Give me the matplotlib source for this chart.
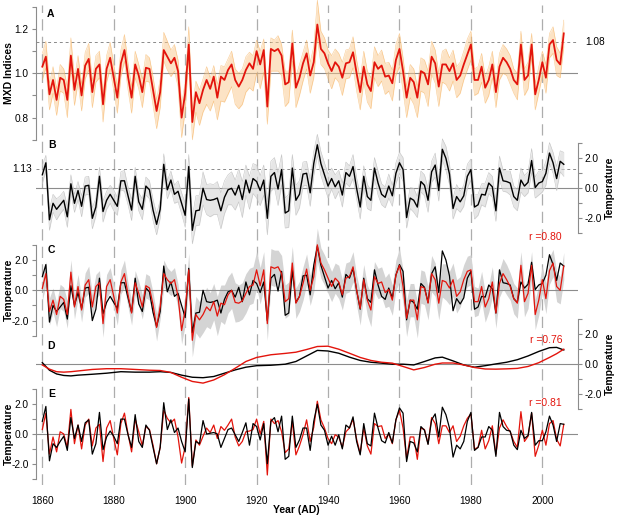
import numpy as np
import matplotlib
matplotlib.use('Agg')
import matplotlib.pyplot as plt

plt.rcParams['font.family'] = ['Liberation Sans', 'DejaVu Sans']

# ---- data (1860-2006) ----
years = np.arange(1860, 2007)

# A: mean MXD index (red) and spread of the individual chronologies
mxd_mean = [1.03, 1.075, 0.905, 0.97, 0.88, 0.98, 0.97, 0.88, 1.08, 0.925,
            1.02, 0.90, 1.035, 1.065, 0.915, 1.02, 1.04, 0.86, 1.02, 1.07,
            0.98, 0.89, 1.045, 1.105, 0.985, 0.89, 1.04, 0.99, 0.915, 1.025,
            1.02, 0.925, 0.83, 0.915, 1.105, 1.075, 1.045, 1.07, 1.01, 0.80,
            0.91, 1.13, 0.78, 0.915, 0.865, 0.925, 0.97, 0.93, 0.985, 0.89,
            0.985, 0.97, 1.015, 1.04, 0.97, 0.94, 0.97, 1.015, 1.045, 1.02,
            1.10, 1.04, 1.105, 0.85, 1.11, 1.10, 1.11, 1.08, 0.95, 0.96,
            1.135, 0.935, 0.98, 1.045, 1.09, 0.99, 1.05, 1.22, 1.11, 1.09,
            1.045, 1.01, 1.05, 1.03, 0.98, 1.045, 1.05, 1.095, 1.0, 0.915,
            1.03, 0.95, 0.92, 1.05, 1.02, 1.035, 0.985, 0.99, 0.955, 1.06,
            1.11, 1.01, 0.89, 0.98, 0.96, 0.89, 1.01, 1.0, 0.95, 1.075,
            1.045, 0.94, 1.04, 1.04, 1.01, 1.045, 0.97, 0.99, 1.04, 1.085,
            1.13, 0.97, 0.97, 1.03, 0.935, 0.97, 1.04, 0.915, 1.03, 1.07,
            1.05, 1.02, 0.97, 0.95, 1.13, 0.97, 0.99, 1.13, 0.905, 0.97,
            1.05, 0.98, 1.13, 1.15, 1.06, 1.04, 1.18]
mxd_up = [.06, .07, .05, .06, .05, .06, .05, .06, .08, .05,
          .06, .05, .06, .07, .05, .06, .06, .05, .06, .07,
          .06, .05, .06, .07, .06, .05, .06, .05, .06, .06,
          .05, .06, .05, .06, .08, .07, .06, .06, .05, .06,
          .05, .08, .06, .05, .06, .05, .06, .05, .05, .06,
          .05, .06, .05, .06, .05, .06, .05, .06, .05, .06,
          .05, .06, .05, .06, .05, .05, .06, .05, .06, .05,
          .06, .05, .06, .05, .06, .06, .07, .11, .08, .07,
          .06, .07, .06, .06, .07, .06, .06, .07, .06, .06,
          .07, .06, .06, .07, .06, .07, .06, .06, .06, .07,
          .07, .06, .05, .06, .06, .05, .06, .06, .06, .07,
          .06, .06, .06, .07, .06, .06, .06, .06, .06, .07,
          .06, .05, .06, .06, .05, .06, .06, .05, .06, .06,
          .06, .06, .05, .05, .06, .05, .06, .05, .05, .06,
          .05, .06, .05, .06, .06, .05, .06]
mxd_dn = [.06, .05, .07, .06, .07, .06, .06, .08, .05, .07,
          .06, .07, .06, .05, .07, .06, .06, .08, .06, .05,
          .06, .07, .06, .05, .06, .07, .06, .06, .07, .06,
          .06, .07, .08, .07, .05, .06, .06, .06, .07, .09,
          .08, .06, .08, .09, .10, .10, .11, .10, .11, .10,
          .11, .10, .11, .10, .11, .10, .11, .10, .11, .10,
          .10, .11, .10, .08, .10, .09, .10, .09, .10, .09,
          .08, .09, .08, .08, .07, .08, .07, .06, .07, .07,
          .07, .08, .07, .07, .08, .07, .07, .07, .08, .08,
          .07, .08, .08, .07, .08, .07, .08, .07, .08, .07,
          .08, .09, .09, .09, .10, .09, .09, .09, .10, .08,
          .09, .09, .08, .09, .09, .08, .08, .08, .07, .07,
          .07, .07, .06, .07, .07, .07, .06, .07, .06, .07,
          .06, .07, .06, .07, .06, .07, .06, .06, .07, .06,
          .06, .07, .06, .06, .07, .06, .06]

# B/C: observed temperature (black) and station spread (grey)
temp_obs = [0.9, 1.7, -2.1, -1.0, -1.4, -1.1, -0.8, -1.9, 0.3, -1.0,
            -0.15, -1.2, 0.15, 0.2, -2.0, -1.25, 0.8, -1.55, -0.8, -0.4,
            -0.8, -1.2, 0.5, 0.5, -0.5, -1.45, 0.8, -0.9, -1.4, 0.15,
            -0.1, -1.45, -2.4, -1.4, 1.6, -0.1, 0.55, -0.4, -0.2, -1.0,
            -1.8, 1.45, -2.8, -1.5, -1.45, 0.0, -0.75, -0.8, -0.75, -0.65,
            -1.5, -0.6, -0.1, 0.0, -0.45, 0.2, -0.75, 0.55, -0.3, 0.65,
            0.45, -0.15, 0.55, -2.0, 0.8, 1.05, -0.05, 1.25, -1.65, -1.5,
            1.35, -0.8, -0.4, 0.95, 1.0, -0.3, 1.65, 2.9, 1.65, 0.9,
            0.15, 0.65, 0.1, 0.5, -0.45, 1.05, 0.8, 1.45, 0.0, -1.25,
            0.8, -0.55, -0.8, 1.35, 0.35, -0.4, -0.6, 0.15, -0.5, 1.0,
            1.7, 1.25, -1.95, -0.65, -0.8, -1.25, 0.45, 0.2, -0.8, 1.1,
            1.55, -0.15, 2.6, 2.0, 0.95, -1.35, -0.55, -0.9, -0.5, 0.8,
            1.25, -1.25, -1.1, -0.4, -0.45, 0.35, 0.1, -1.5, 1.35, 0.5,
            0.45, 0.35, -0.55, -0.8, 0.55, 0.15, 0.4, 1.85, 0.05, 0.35,
            0.45, 1.0, 2.35, 1.7, 0.65, 1.8, 1.6]
obs_spread = [.6, .5, .7, .6, .7, .6, .6, .7, .6, .6,
              .6, .7, .6, .6, .7, .6, .6, .7, .6, .6,
              .7, .6, .6, .7, .6, .7, .6, .6, .7, .6,
              .6, .7, .7, .6, .7, .6, .6, .6, .7, .7,
              .8, .8, .9, 1.0, 1.0, 1.1, 1.0, 1.1, 1.0, 1.1,
              1.2, 1.1, 1.0, 1.1, 1.0, 1.1, 1.2, 1.0, 1.1, 1.0,
              1.1, 1.0, 1.0, 1.1, 1.0, 1.0, 1.1, 1.0, 1.0, 1.1,
              .9, 1.0, .9, .8, .8, .9, .8, .7, .8, .8,
              .8, .7, .8, .7, .8, .7, .7, .8, .7, .8,
              .7, .8, .7, .7, .8, .7, .7, .8, .7, .7,
              .7, .8, .7, .7, .8, .7, .7, .7, .8, .7,
              .8, .7, .7, .8, .7, .7, .8, .7, .7, .8,
              .7, .8, .7, .7, .8, .7, .7, .7, .8, .7,
              .7, .8, .7, .7, .8, .7, .7, .8, .7, .8,
              .7, .8, .7, .7, .8, .7, .8]

# C: reconstruction in temperature units (red) and its uncertainty band
temp_rec = [0.13, 1.1, -1.4, -0.65, -1.6, -0.4, -0.6, -1.6, 1.2, -1.1,
            0.25, -1.3, 0.35, 0.7, -1.1, 0.25, 0.5, -2.2, 0.25, 0.7,
            -0.4, -1.5, 0.55, 1.1, -0.3, -1.5, 0.5, -0.2, -1.1, 0.3,
            0.15, -0.95, -2.45, -1.1, 1.1, 0.7, 0.45, 0.7, -0.4, -2.65,
            -1.3, 1.35, -3.3, -1.6, -1.95, -1.6, -1.1, -1.35, -0.75, -1.7,
            -0.85, -0.95, -0.3, 0.0, -0.8, -0.85, -0.7, -0.2, 0.25, 0.35,
            1.35, 0.3, 1.35, -2.2, 1.55, 1.45, 1.55, 1.1, -0.75, -0.55,
            1.8, -0.85, -0.4, 0.45, 1.4, 0.0, 0.9, 3.0, 1.8, 1.35,
            0.8, 0.25, 0.8, 0.55, -0.3, 0.8, 0.9, 1.55, 0.0, -1.2,
            0.7, -0.65, -1.3, 0.9, 0.45, 0.55, -0.15, 0.05, -0.65, 1.0,
            1.65, 0.25, -1.85, -0.65, -0.65, -1.95, 0.25, 0.15, -0.85, 1.1,
            0.7, -0.85, 0.65, 0.55, 0.15, 0.7, -0.4, -0.1, 0.7, 1.25,
            1.35, -0.75, -0.75, 0.25, -1.1, -0.55, 0.55, -1.5, 0.45, 1.1,
            0.7, 0.25, -0.55, -0.85, 1.65, -0.75, -0.2, 1.65, -1.6, -0.65,
            0.7, -0.55, 1.3, 1.8, 0.25, 0.0, 1.6]
rec_spread = [.8, .8, .9, .8, .8, .8, .8, .9, .8, .8,
              .8, .8, .8, .9, .8, .8, .8, .9, .8, .8,
              .8, .8, .8, .9, .8, .8, .8, .8, .8, .8,
              .8, .8, .9, .8, .9, .8, .8, .8, .8, .9,
              1.0, 1.1, 1.1, 1.2, 1.2, 1.2, 1.3, 1.2, 1.2, 1.3,
              1.2, 1.3, 1.2, 1.2, 1.3, 1.2, 1.2, 1.3, 1.2, 1.2,
              1.2, 1.2, 1.2, 1.1, 1.2, 1.2, 1.1, 1.2, 1.1, 1.1,
              1.1, 1.0, 1.0, 1.1, 1.0, 1.0, 1.0, 1.1, 1.0, 1.0,
              1.0, 1.0, 1.0, 1.1, 1.0, 1.0, 1.0, 1.0, 1.0, 1.1,
              1.0, 1.0, 1.1, 1.0, 1.0, 1.0, 1.0, 1.1, 1.0, 1.0,
              1.1, 1.1, 1.2, 1.1, 1.1, 1.2, 1.1, 1.1, 1.1, 1.2,
              1.1, 1.1, 1.1, 1.2, 1.1, 1.1, 1.1, 1.0, 1.0, 1.0,
              1.0, 1.0, 0.9, 1.0, 1.0, 0.9, 1.0, 1.0, 0.9, 1.0,
              1.0, 0.9, 1.0, 1.0, 0.9, 1.0, 1.0, 0.9, 1.0, 1.0,
              0.9, 1.0, 0.9, 0.9, 1.0, 0.9, 0.9]

# D: low-pass curves
low_years = [1860, 1862, 1864, 1866, 1868, 1870, 1874, 1878, 1882, 1886,
             1890, 1893, 1896, 1899, 1902, 1905, 1908, 1911, 1914, 1917,
             1920, 1924, 1928, 1931, 1934, 1937, 1940, 1943, 1946, 1949,
             1952, 1955, 1958, 1961, 1964, 1967, 1970, 1972, 1975, 1978,
             1981, 1984, 1987, 1990, 1993, 1996, 1999, 2002, 2004, 2006]
low_obs = [0.1, -0.4, -0.65, -0.75, -0.78, -0.73, -0.67, -0.6, -0.5, -0.53,
           -0.53, -0.5, -0.55, -0.73, -0.87, -0.9, -0.82, -0.6, -0.38, -0.2,
           -0.1, -0.07, 0.0, 0.18, 0.55, 0.92, 0.88, 0.73, 0.47, 0.25,
           0.13, 0.07, 0.0, 0.0, -0.05, 0.18, 0.42, 0.47, 0.22, -0.05,
           -0.2, -0.1, 0.02, 0.13, 0.3, 0.55, 0.85, 1.1, 1.12, 0.95]
low_rec = [-0.05, -0.33, -0.5, -0.53, -0.5, -0.45, -0.35, -0.3, -0.3, -0.35,
           -0.4, -0.42, -0.55, -0.87, -1.15, -1.26, -1.05, -0.7, -0.27, 0.18,
           0.45, 0.63, 0.72, 0.8, 0.98, 1.18, 1.2, 1.0, 0.73, 0.45,
           0.25, 0.13, 0.07, -0.15, -0.38, -0.22, 0.0, 0.08, 0.08, -0.05,
           -0.22, -0.32, -0.33, -0.31, -0.28, -0.15, 0.1, 0.45, 0.7, 1.0]

# E: high-pass series
high_obs = [0.85, 1.85, -1.8, -0.65, -0.9, -0.5, -0.15, -1.1, 1.1, -0.3,
            0.6, -0.5, 0.75, 0.95, -1.35, -0.65, 1.45, -1.05, -0.2, 0.2,
            -0.15, -0.65, 1.0, 1.0, -0.05, -0.9, 1.3, -0.5, -0.9, 0.6,
            0.25, -0.9, -2.0, -0.9, 2.1, 0.3, 0.95, 0.1, 0.4, -0.5,
            -1.2, 2.35, -2.25, -0.5, -0.65, 0.9, 0.0, 0.05, 0.1, 0.0,
            -0.9, -0.3, 0.3, 0.4, -0.05, -0.5, 0.1, 0.75, -0.75, 0.7,
            0.5, -0.4, 0.7, -2.0, 0.85, 1.1, 0.15, 1.2, -1.7, -1.5,
            1.2, -0.9, -0.4, 0.4, 0.4, -1.1, 0.85, 2.0, 0.6, 0.25,
            -0.75, -0.15, -0.75, -0.05, -1.0, 0.6, 0.4, 1.15, -0.5, -1.4,
            0.7, -0.65, -0.8, 1.4, 0.4, -0.45, -0.6, 0.1, -0.6, 0.95,
            1.75, 1.4, -1.85, -0.5, -0.6, -1.2, 0.5, 0.25, -0.7, 0.95,
            1.35, -0.2, 1.8, 1.3, 0.4, -1.55, -0.75, -1.0, -0.5, 0.85,
            1.45, -1.1, -0.9, -0.2, -0.2, 0.5, 0.25, -1.5, 1.45, 0.5,
            0.25, 0.2, -0.75, -1.05, 0.25, -0.3, -0.1, 1.45, -0.75, -0.45,
            -0.45, 0.15, 1.2, 0.6, -0.5, 0.7, 0.65]
high_rec = [0.3, 1.4, -1.35, -0.2, -1.2, 0.15, 0.0, -0.9, 1.65, -0.65,
            0.6, -1.0, 0.6, 1.0, -0.8, 0.4, 0.65, -1.85, 0.4, 0.9,
            -0.3, -1.4, 0.7, 1.4, 0.0, -1.2, 1.0, 0.15, -0.8, 0.5,
            0.3, -0.75, -2.0, -0.9, 1.6, 1.05, 0.75, 1.0, -0.2, -1.95,
            -0.85, 2.45, -2.15, -0.4, -0.75, -0.15, 0.4, 0.1, 0.6, -0.3,
            0.5, 0.25, 0.6, 1.0, -0.2, -0.8, -0.5, 0.15, 0.2, 0.3,
            1.0, 0.0, 0.85, -2.75, 1.0, 0.7, 0.9, 0.15, -1.25, -1.0,
            0.85, -1.4, -0.8, -0.05, 0.95, -0.5, 0.45, 2.2, 0.95, 0.4,
            -0.3, -0.65, -0.05, -0.2, -0.9, 0.15, 0.4, 1.0, -0.35, -1.3,
            0.4, -0.8, -1.35, 0.7, 0.5, 0.55, -0.3, 0.0, -0.65, 0.95,
            1.6, 0.4, -1.65, -0.2, -0.2, -1.7, 0.4, 0.3, -0.65, 1.1,
            0.7, -0.65, 0.55, 0.55, 0.1, 0.55, -0.5, -0.15, 0.55, 1.05,
            1.35, -1.0, -0.9, 0.25, -1.0, -0.45, 0.55, -1.35, 0.4, 0.95,
            0.5, 0.15, -0.5, -0.9, 1.5, -0.5, -0.15, 1.4, -1.5, -0.75,
            0.25, -0.75, 0.7, 0.9, -0.35, -0.8, 0.65]

xtick_years = [1860, 1880, 1900, 1920, 1940, 1960, 1980, 2000]
temp_ticks = [-3, -2, -1, 0, 1, 2, 3]
temp_labels = ['', '-2.0', '', '0.0', '', '2.0', '']
mxd_ticks = [0.7, 0.8, 0.9, 1.0, 1.1, 1.2, 1.3]
mxd_labels = ['', '0.8', '', '1.0', '', '1.2', '']

for name, arr in [('mxd_mean', mxd_mean), ('mxd_up', mxd_up), ('mxd_dn', mxd_dn),
                  ('temp_obs', temp_obs), ('obs_spread', obs_spread),
                  ('temp_rec', temp_rec), ('rec_spread', rec_spread),
                  ('high_obs', high_obs), ('high_rec', high_rec)]:
    assert len(arr) == len(years), (name, len(arr))

mxd_mean = np.array(mxd_mean)
temp_obs = np.array(temp_obs)
temp_rec = np.array(temp_rec)

# ---- layout (pixel based) ----
W, H = 617, 518
RED = '#e3140c'
GREY = '#8c8c8c'
X0, X1 = 35.7, 577.7            # spine positions
YR0, YR1 = 1858.15, 2009.9      # years at the spines
PT, PB = 0.0, 485.0             # vertical pixel span of the axes

fig = plt.figure(figsize=(W / 100, H / 100), dpi=100)
rect = [X0 / W, 1 - PB / H, (X1 - X0) / W, (PB - PT) / H]


def fx(x):
    return x / W


def fy(y):
    return 1 - y / H


def make_axes(label, v0=0.0, p0=0.0, scale=1.0):
    ax = fig.add_axes(rect, label=label)
    ax.set_xlim(YR0, YR1)
    ax.set_ylim(v0 - (PB - p0) / scale, v0 + (p0 - PT) / scale)
    ax.patch.set_visible(False)
    for sp in ax.spines.values():
        sp.set_visible(False)
    ax.set_xticks([])
    ax.set_yticks([])
    return ax


def y_axis(ax, side, ticks, labels):
    sp = ax.spines[side]
    sp.set_visible(True)
    sp.set_bounds(ticks[0], ticks[-1])
    sp.set_color(GREY)
    sp.set_linewidth(0.8)
    if side == 'right':
        ax.yaxis.tick_right()
    else:
        ax.yaxis.tick_left()
    ax.set_yticks(ticks)
    ax.set_yticklabels(labels)
    ax.tick_params(axis='y', length=3, width=0.8, color=GREY,
                   labelsize=7.3, pad=2)


def guides(ax, base, dashed=None):
    ax.axhline(base, color=GREY, lw=0.8, zorder=1)
    if dashed is not None:
        ax.axhline(dashed, color='#8a8a8a', lw=0.7, ls=(0, (3, 3)), zorder=1)


# background: vertical dashed lines + year labels
bg = make_axes('bg')
bg.set_ylim(0, 1)
for yr in xtick_years:
    bg.axvline(yr, ymin=0, ymax=1 - 5 / PB, color='#adadad', lw=0.9,
               ls=(0, (9, 5)), zorder=0)
bg.set_xticks(xtick_years)
bg.tick_params(axis='x', length=0, labelsize=7.3, pad=8)

# A
axA = make_axes('A', 1.0, 73.3, 221.7)
guides(axA, 1.0, 1.14)
a_lo = mxd_mean - np.array(mxd_dn)
a_hi = mxd_mean + np.array(mxd_up)
axA.fill_between(years, a_lo, a_hi, color='#fac98c', alpha=0.5, lw=0, zorder=2)
axA.plot(years, a_lo, color='#f5a94e', lw=0.4, alpha=0.6, zorder=2)
axA.plot(years, a_hi, color='#f5a94e', lw=0.4, alpha=0.6, zorder=2)
axA.plot(years, mxd_mean, color=RED, lw=1.3, zorder=3)
y_axis(axA, 'left', mxd_ticks, mxd_labels)

# B
axB = make_axes('B', 0.0, 188.3, 15.0)
guides(axB, 0.0, 1.27)
b_lo = temp_obs - np.array(obs_spread)
b_hi = temp_obs + np.array(obs_spread)
axB.fill_between(years, b_lo, b_hi, color='#d6d6d6', alpha=0.6, lw=0, zorder=2)
axB.plot(years, b_lo, color='#c4c4c4', lw=0.4, zorder=2)
axB.plot(years, b_hi, color='#c4c4c4', lw=0.4, zorder=2)
axB.plot(years, temp_obs, color='black', lw=1.0, zorder=3)
y_axis(axB, 'right', temp_ticks, temp_labels)

# C
axC = make_axes('C', 0.0, 290.3, 15.15)
axC.fill_between(years, temp_rec - np.array(rec_spread), temp_rec + np.array(rec_spread),
                 color='#d4d4d4', lw=0, zorder=0.5)
guides(axC, 0.0)
axC.plot(years, temp_obs, color='black', lw=0.9, zorder=3)
axC.plot(years, temp_rec, color=RED, lw=0.9, zorder=4)
y_axis(axC, 'left', temp_ticks, temp_labels)

# D
axD = make_axes('D', 0.0, 364.2, 15.0)
guides(axD, 0.0)
axD.plot(low_years, low_obs, color='black', lw=1.0, zorder=3)
axD.plot(low_years, low_rec, color=RED, lw=1.0, zorder=4)
y_axis(axD, 'right', temp_ticks, temp_labels)

# E
axE = make_axes('E', 0.0, 434.0, 14.9)
guides(axE, 0.0)
axE.plot(years, high_rec, color=RED, lw=0.9, zorder=3)
axE.plot(years, high_obs, color='black', lw=0.9, zorder=4)
y_axis(axE, 'left', temp_ticks, temp_labels)

# ---- texts ----
for letter, (x, y) in zip('ABCDE', [(47, 14), (48, 144.5), (48, 250), (47, 346), (48, 394)]):
    fig.text(fx(x), fy(y), letter, fontsize=7.5, fontweight='bold', va='center', ha='left')

fig.text(fx(585), fy(42.3), '1.08', fontsize=7.3, va='center', ha='left')
fig.text(fx(32), fy(169.3), '1.13', fontsize=7.3, va='center', ha='right')

fig.text(fx(9), fy(73), 'MXD Indices', rotation=90, fontsize=7.5,
         fontweight='bold', va='center', ha='center')
for y in (290, 434):
    fig.text(fx(9), fy(y), 'Temperature', rotation=90, fontsize=7.5,
             fontweight='bold', va='center', ha='center')
for y in (188, 364):
    fig.text(fx(610), fy(y), 'Temperature', rotation=90, fontsize=7.5,
             fontweight='bold', va='center', ha='center')

for txt, y in [('r =0.80', 236.7), ('r =0.76', 340), ('r =0.81', 403.3)]:
    fig.text(fx(562), fy(y), txt, color=RED, fontsize=7.5, va='center', ha='right')

fig.text(fx(296), fy(510), 'Year (AD)', fontsize=7.5, fontweight='bold',
         va='center', ha='center')

fig.savefig('out.png', dpi=100)
